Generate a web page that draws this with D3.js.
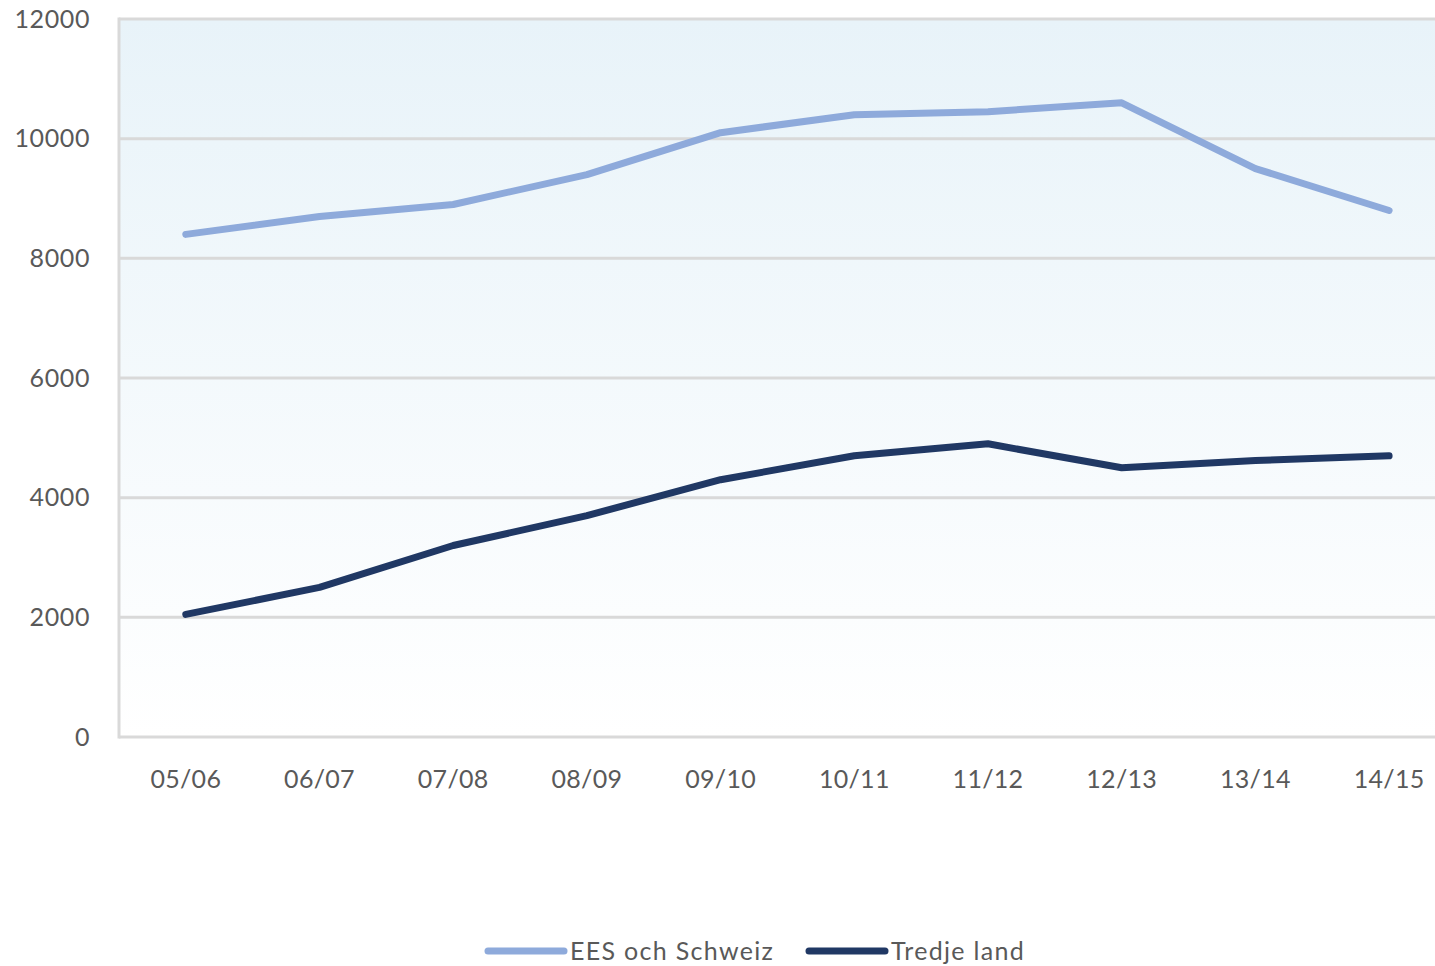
<!DOCTYPE html>
<html>
<head>
<meta charset="utf-8">
<script src="https://cdn.jsdelivr.net/npm/d3@7"></script>
<style>
  body { margin: 0; background: #fff; }
  svg { display: block; font-family: Lato, "Open Sans", sans-serif; }
</style>
</head>
<body>
<div id="chart"></div>
<script>
// chart data
const categories = ["05/06", "06/07", "07/08", "08/09", "09/10", "10/11", "11/12", "12/13", "13/14", "14/15"];
const eesValues = [8400, 8700, 8900, 9400, 10100, 10400, 10450, 10600, 9500, 8800];
const tredjeValues = [2050, 2500, 3200, 3700, 4300, 4700, 4900, 4500, 4620, 4700];
const yTicks = [0, 2000, 4000, 6000, 8000, 10000, 12000];
const seriesNames = ["EES och Schweiz", "Tredje land"];
const seriesColors = ["#8eaadb", "#203864"];

const width = 1435, height = 966;
const plotLeft = 119, plotTop = 19, plotBottom = 737;

const svg = d3.select("#chart").append("svg")
    .attr("width", width)
    .attr("height", height);

// background gradient of plot area
const grad = svg.append("defs").append("linearGradient")
    .attr("id", "bg").attr("x1", 0).attr("y1", 0).attr("x2", 0).attr("y2", 1);
grad.append("stop").attr("offset", "0%").attr("stop-color", "#e8f3f9");
grad.append("stop").attr("offset", "100%").attr("stop-color", "#ffffff");

// band is cut by the window on the right, like the reference
const x = d3.scalePoint()
    .domain(categories)
    .range([plotLeft + 66.8, plotLeft + 66.8 + 133.7 * 9]);

const y = d3.scaleLinear()
    .domain([0, 12000])
    .range([plotBottom, plotTop]);

svg.append("rect")
    .attr("x", plotLeft).attr("y", plotTop)
    .attr("width", width - plotLeft).attr("height", plotBottom - plotTop)
    .attr("fill", "url(#bg)");

// gridlines
svg.append("g")
    .selectAll("line")
    .data(yTicks)
    .join("line")
    .attr("x1", plotLeft).attr("x2", width)
    .attr("y1", d => y(d)).attr("y2", d => y(d))
    .attr("stroke", "#d9d9d9")
    .attr("stroke-width", 3);

// left axis line
svg.append("line")
    .attr("x1", plotLeft).attr("x2", plotLeft)
    .attr("y1", plotTop - 1.5).attr("y2", plotBottom + 1.5)
    .attr("stroke", "#d9d9d9")
    .attr("stroke-width", 3);

// y tick labels
svg.append("g")
    .selectAll("text")
    .data(yTicks)
    .join("text")
    .attr("x", 90)
    .attr("y", d => y(d))
    .attr("dy", "0.35em")
    .attr("text-anchor", "end")
    .attr("font-size", 25)
    .attr("letter-spacing", 0.6)
    .attr("fill", "#595959")
    .text(d => d);

// x tick labels
svg.append("g")
    .selectAll("text")
    .data(categories)
    .join("text")
    .attr("x", d => x(d))
    .attr("y", 779)
    .attr("dy", "0.35em")
    .attr("text-anchor", "middle")
    .attr("font-size", 25)
    .attr("letter-spacing", 0.3)
    .attr("fill", "#595959")
    .text(d => d);

const line = d3.line()
    .x((d, i) => x(categories[i]))
    .y(d => y(d));

[eesValues, tredjeValues].forEach((vals, i) => {
    svg.append("path")
        .datum(vals)
        .attr("fill", "none")
        .attr("stroke", seriesColors[i])
        .attr("stroke-width", 7)
        .attr("stroke-linecap", "round")
        .attr("stroke-linejoin", "round")
        .attr("d", line);
});

// legend
const legendX = [488, 809];
seriesNames.forEach((name, i) => {
    const g = svg.append("g").attr("transform", `translate(${legendX[i]},951)`);
    g.append("line")
        .attr("x1", 0).attr("x2", 76)
        .attr("stroke", seriesColors[i])
        .attr("stroke-width", 7)
        .attr("stroke-linecap", "round");
    g.append("text")
        .attr("x", 82)
        .attr("dy", "0.35em")
        .attr("font-size", 25)
        .attr("letter-spacing", 1.3)
        .attr("fill", "#595959")
        .text(name);
});
</script>
</body>
</html>
